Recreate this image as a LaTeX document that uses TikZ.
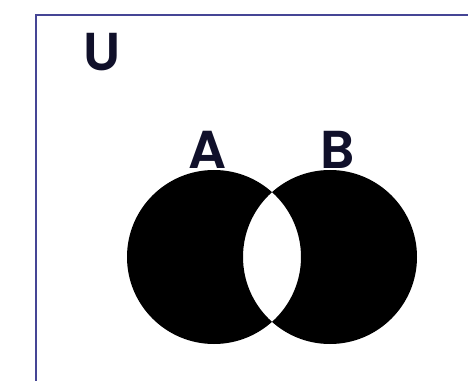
\documentclass[tikz,border=0pt]{standalone}
\usepackage{fontspec}
\setmainfont{Poppins}
\newfontfamily\setfont{Poppins SemiBold}
\definecolor{framecol}{HTML}{454595}
\definecolor{inkcol}{HTML}{10102A}
\begin{document}
\begin{tikzpicture}[x=0.75pt, y=-0.75pt,
    setlabel/.style={font=\fontsize{40}{48}\setfont, text=inkcol, inner sep=0pt}]

  % ============================================================
  % Kader en assen
  % ============================================================
  \useasboundingbox (0,0) rectangle (468,381);

  \coordinate (FL) at (36,381);
  \coordinate (FC) at (36,15);
  \coordinate (FR) at (468,15);
  \draw[framecol, line width=2.2pt] (FL) -- (FC) -- (FR);

  % Universum
  \node[setlabel] (lblU) at (102,52) {U};

  % ============================================================
  % Verzamelingen A en B (symmetrisch verschil)
  % ============================================================
  \coordinate (cA) at (214,257);
  \coordinate (cB) at (330,257);
  \fill[black, even odd rule] (cA) circle (87) (cB) circle (87);

  \node[setlabel] (lblA) at (208,150) {A};
  \node[setlabel] (lblB) at (338,150) {B};

\end{tikzpicture}
\end{document}
